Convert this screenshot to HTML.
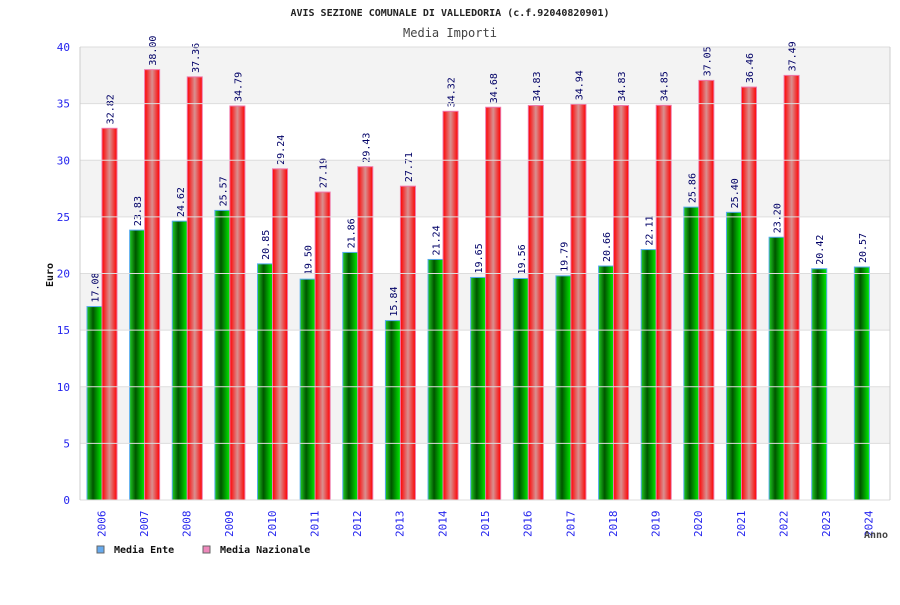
<!DOCTYPE html>
<html><head><meta charset="utf-8"><style>
body{margin:0;background:#fff;}
svg text{font-family:"DejaVu Sans Mono","Liberation Mono",monospace;}
</style></head><body>
<svg id="chart" width="900" height="600" xmlns="http://www.w3.org/2000/svg">
<defs>
<linearGradient id="gGreen" x1="0" x2="1" y1="0" y2="0">
<stop offset="0" stop-color="#22cc22"/><stop offset="0.4" stop-color="#005500"/><stop offset="1" stop-color="#00ee00"/>
</linearGradient>
<linearGradient id="gRed" x1="0" x2="1" y1="0" y2="0">
<stop offset="0" stop-color="#ff0000"/><stop offset="0.5" stop-color="#d99090"/><stop offset="1" stop-color="#ff0000"/>
</linearGradient>
</defs>
<text x="450" y="16" text-anchor="middle" font-size="10" font-weight="bold" fill="#222">AVIS SEZIONE COMUNALE DI VALLEDORIA (c.f.92040820901)</text>
<text x="450" y="37" text-anchor="middle" font-size="12" fill="#444">Media Importi</text>
<g id="bands"></g>
<g id="bars"></g>
<g id="axes"></g>
<text transform="translate(53,275) rotate(-90)" text-anchor="middle" font-size="10" font-weight="bold" fill="#111">Euro</text>
<text x="876" y="538" text-anchor="middle" font-size="10" font-weight="bold" fill="#444">Anno</text>
<g>
<rect x="97" y="546" width="7" height="7" fill="#66aaee" stroke="#666"/>
<text x="114" y="553" font-size="10" font-weight="bold" fill="#111">Media Ente</text>
<rect x="203" y="546" width="7" height="7" fill="#ee88bb" stroke="#666"/>
<text x="220" y="553" font-size="10" font-weight="bold" fill="#111">Media Nazionale</text>
</g>
</svg>
<script>
const categories=["2006","2007","2008","2009","2010","2011","2012","2013","2014","2015","2016","2017","2018","2019","2020","2021","2022","2023","2024"];
const enteValues=[17.08,23.83,24.62,25.57,20.85,19.50,21.86,15.84,21.24,19.65,19.56,19.79,20.66,22.11,25.86,25.40,23.20,20.42,20.57];
const nazionaleValues=[32.82,38.00,37.36,34.79,29.24,27.19,29.43,27.71,34.32,34.68,34.83,34.94,34.83,34.85,37.05,36.46,37.49,null,null];
const yTicks=[0,5,10,15,20,25,30,35,40];
const NS="http://www.w3.org/2000/svg";
const L=80,R=890,T=47,B=500,YMAX=40;
const y=v=>B-(v/YMAX)*(B-T);
const cw=(R-L)/categories.length;
const x=i=>L+i*cw;
function mk(tag,attrs,parent,txt){const e=document.createElementNS(NS,tag);for(const k in attrs)e.setAttribute(k,attrs[k]);if(txt!=null)e.textContent=txt;parent.appendChild(e);return e;}
const bands=document.getElementById('bands'),bars=document.getElementById('bars'),axes=document.getElementById('axes');
for(let i=0;i<yTicks.length-1;i++){
  const r=mk('rect',{x:L,y:y(yTicks[i+1]),width:R-L,height:y(yTicks[i])-y(yTicks[i+1]),fill:(i%2===1)?'#f3f3f3':'#ffffff'},bands);
  
  
}
yTicks.forEach(t=>{
  const l=mk('line',{x1:L,x2:R,y1:y(t),y2:y(t),stroke:'#dddddd'},axes);
  
  
  const tx=mk('text',{x:L-10,y:y(t)+4,'text-anchor':'end','font-size':11,fill:'#2222ee'},axes,String(t));
  
  
});
const ax=mk('line',{x1:L,x2:L,y1:T,y2:B,stroke:'#cccccc'},axes);


const ax2=mk('line',{x1:R,x2:R,y1:T,y2:B,stroke:'#cccccc'},axes);


function bar(i,v,off,fill,stroke,name){
  if(v==null)return;
  const bx=x(i)+off,w=15;
  const r=mk('rect',{x:bx,y:y(v),width:w,height:B-y(v),fill:fill,stroke:stroke,'stroke-width':1},bars);
  
  
  const cx=bx+w/2+4,cy=y(v)-4;
  const t=mk('text',{transform:`translate(${cx},${cy}) rotate(-90)`,'font-size':10,fill:'#000066','font-family':'Liberation Sans, sans-serif'},bars,v.toFixed(2));
  
  
}
categories.forEach((c,i)=>{
  bar(i,enteValues[i],7,'url(#gGreen)','#55aaee','bar-ente-'+c);
  bar(i,nazionaleValues[i],22,'url(#gRed)','#ee77aa','bar-nazionale-'+c);
  const cx=x(i)+cw/2+4;
  const t=mk('text',{transform:`translate(${cx},${537}) rotate(-90)`,'font-size':11,fill:'#2222ee'},axes,c);
  
  
});
</script>
</body></html>
